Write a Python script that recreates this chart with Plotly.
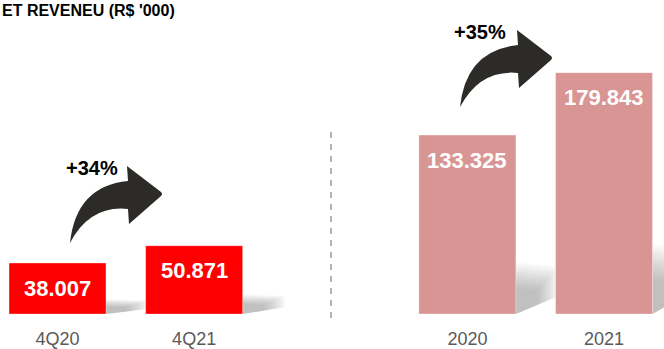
import plotly.graph_objects as go

# ---- data ----
categories = ["4Q20", "4Q21", " ", "2020", "2021"]
bar_labels = ["4Q20", "4Q21", "2020", "2021"]
values = [38.007, 50.871, 133.325, 179.843]
value_text = ["38.007", "50.871", "133.325", "179.843"]
growth_text = ["+34%", "+35%"]
title_text = "ET REVENEU (R&#36; '000)"

# ---- styles ----
W, H = 664, 349
MT, MB = 0, 35
PH = H - MT - MB
FONT = "Liberation Sans"
bar_colors = ["#ff0000", "#ff0000", "#d99594", "#d99594"]
bar_width = 0.71
arrow_color = "#2d2b28"


def px_to_paper(x, y):
    return x / W, (PH - y) / PH


fig = go.Figure()
fig.add_trace(go.Bar(
    x=bar_labels, y=values, width=bar_width,
    marker=dict(color=bar_colors, line=dict(color="rgba(255,255,255,0.35)", width=1)),
    hoverinfo="skip",
))

shapes = []
# soft shadows to the right of each bar
cat_index = {c: i for i, c in enumerate(categories)}
n_layers = 12
for lab, v in zip(bar_labels, values):
    xr = cat_index[lab] + bar_width / 2
    for k in range(n_layers):
        scale = 1.2 - 0.6 * k / (n_layers - 1)
        h = 0.24 * v * scale
        d = 0.26 * scale
        shapes.append(dict(
            type="path", xref="x", yref="y", layer="below",
            path=f"M{xr},0 L{xr},{h} L{xr + d},{h * 0.92} L{xr + d},{h * 0.35} Z",
            fillcolor="rgba(110,110,110,0.04)", line=dict(width=0),
        ))

# dashed separator
x0, y0 = px_to_paper(331, 132)
_, y1 = px_to_paper(331, 323)
shapes.append(dict(type="line", xref="paper", yref="paper", x0=x0, x1=x0, y0=y0, y1=y1,
                   line=dict(color="#b4b4b4", width=2, dash="6px,6px")))

# curved arrows (decorations)
arrow_local = [
    ("M", [(0, 0)]),
    ("Q", [(6, -57), (58, -62)]),
    ("L", [(57, -77)]),
    ("L", [(91, -51)]),
    ("Q", [(93, -49), (91, -47)]),
    ("L", [(59, -19)]),
    ("L", [(58, -34)]),
    ("Q", [(20, -38), (0, 0)]),
]


def arrow_path(tx, ty):
    parts = []
    for cmd, pts in arrow_local:
        coords = []
        for (dx, dy) in pts:
            px, py = px_to_paper(tx + dx, ty + dy)
            coords.append(f"{px:.5f},{py:.5f}")
        parts.append(cmd + " ".join(coords))
    return " ".join(parts) + " Z"


for (tx, ty) in [(70, 243), (460, 107)]:
    shapes.append(dict(type="path", xref="paper", yref="paper", path=arrow_path(tx, ty),
                       fillcolor=arrow_color, line=dict(width=0)))

annotations = []
for lab, v, t in zip(bar_labels, values, value_text):
    annotations.append(dict(x=cat_index[lab], y=v, xref="x", yref="y", text=t, showarrow=False,
                            yanchor="middle", yshift=-25,
                            font=dict(family=FONT, size=22, color="white", weight="bold")))

for (cx, cy), t in zip([(92, 168), (480, 32)], growth_text):
    px, py = px_to_paper(cx, cy)
    annotations.append(dict(x=px, y=py, xref="paper", yref="paper", text=t, showarrow=False,
                            xanchor="center", yanchor="middle",
                            font=dict(family=FONT, size=20, color="black", weight="bold")))

tx, ty = px_to_paper(0, 11)
annotations.append(dict(x=tx, y=ty, xref="paper", yref="paper", text=title_text, showarrow=False,
                        xanchor="left", yanchor="middle",
                        font=dict(family=FONT, size=16, color="black", weight="bold")))

fig.update_layout(
    width=W, height=H,
    margin=dict(l=0, r=0, t=MT, b=MB),
    paper_bgcolor="white", plot_bgcolor="white",
    showlegend=False,
    shapes=shapes, annotations=annotations,
    xaxis=dict(type="category", categoryorder="array", categoryarray=categories,
               range=[-0.421, 4.439], showgrid=False, zeroline=False, showline=False,
               ticks="", tickfont=dict(family=FONT, size=18, color="#595959"),
               ticklabelstandoff=12, automargin=False, fixedrange=True),
    yaxis=dict(range=[0, 234], visible=False, fixedrange=True, automargin=False),
)

fig.write_html("out.html")
